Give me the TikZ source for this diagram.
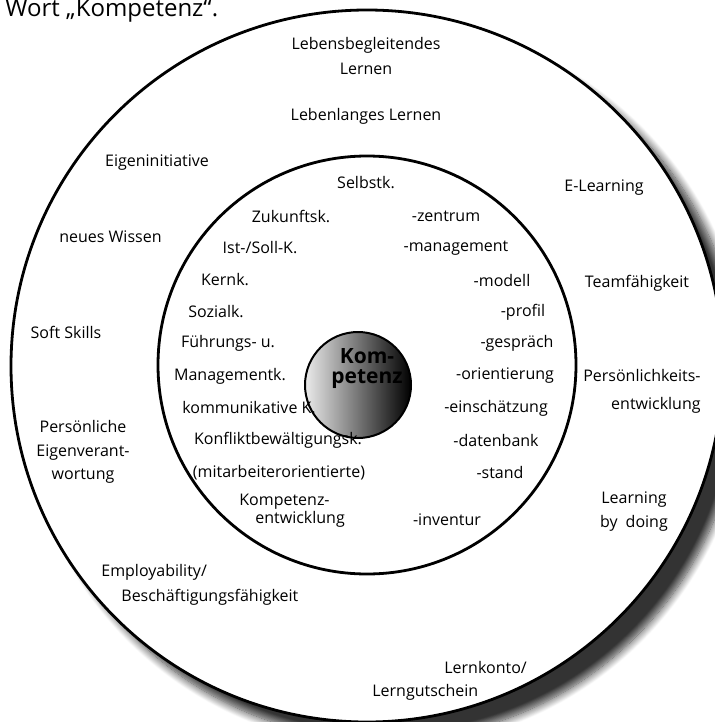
\documentclass[tikz,border=0pt]{standalone}
\usepackage{fontspec}
\setmainfont{Open Sans}
\usetikzlibrary{shadows.blur}

\tikzset{
  ringtext/.style={inner sep=1pt, align=center, font=\fontsize{8}{12.5}\selectfont},
  kreistext/.style={inner sep=1pt, font=\fontsize{8}{10}\selectfont},
  ring/.style={circle, draw, line width=1.4pt, fill=white, inner sep=0pt, outer sep=0pt},
  kugel/.style={circle, draw, line width=1pt, inner sep=0pt, minimum size=53pt,
    left color=black!8, right color=black},
}

\begin{document}
\begin{tikzpicture}[x=0.5pt, y=-0.5pt]
   \useasboundingbox (0,0) rectangle (714,722);

   \node[anchor=base west, inner sep=0pt, font=\fontsize{12}{14}\selectfont] (titel) at (5,17) {Wort „Kompetenz“.};

   % Ringe
   \node[ring, minimum size=356pt,
     blur shadow={shadow xshift=9pt, shadow yshift=-9pt, shadow blur radius=4pt,
       shadow blur steps=12, shadow opacity=80}] (aussen) at (367,366) {};
   \node[ring, minimum size=209pt] (innen) at (367,365) {};
   \node[kugel] (kern) at (358,385) {};
   \node[align=center, inner sep=0pt, font=\bfseries\fontsize{10.5}{10}\selectfont] (kerntext) at (367,369) {Kom-\\petenz};

   % aeusserer Ring
   \node[ringtext] (lebensbegl) at (366,56) {Lebensbegleitendes\\Lernen};
   \node[ringtext] (lebenlang) at (366,116) {Lebenlanges Lernen};
   \node[ringtext] (eigeninit) at (157,163) {Eigeninitiative};
   \node[ringtext] (elearn) at (604,188) {E-Learning};
   \node[ringtext, anchor=east] (wissen) at (164,237) {neues Wissen};
   \node[ringtext] (team) at (637,283) {Teamfähigkeit};
   \node[ringtext] (soft) at (66,332) {Soft Skills};
   \node[ringtext, align=right, anchor=east, font=\fontsize{8}{14}\selectfont] (persoenl) at (703,391) {Persönlichkeits-\\entwicklung};
   \node[ringtext, font=\fontsize{8}{11.75}\selectfont] (eigenverant) at (83,452) {Persönliche\\Eigenverant-\\wortung};
   \node[ringtext, font=\fontsize{8}{12}\selectfont] (learning) at (634,512) {Learning\\by\enspace doing};
   \node[ringtext, align=left, anchor=west, font=\fontsize{8}{12.5}\selectfont] (employ) at (99,585) {Employability/\\\hspace*{10pt}Beschäftigungsfähigkeit};
   \node[ringtext, align=left, anchor=west, font=\fontsize{8}{11.5}\selectfont] (lernkonto) at (370,681) {\hspace*{36pt}Lernkonto/\\Lerngutschein};

   % innerer Ring
   \node[kreistext] (selbst) at (366,183) {Selbstk.};
   \node[kreistext] (zukunft) at (291,216) {Zukunftsk.};
   \node[kreistext] (zentrum) at (446,216) {-zentrum};
   \node[kreistext] (istsoll) at (260,248) {Ist-/Soll-K.};
   \node[kreistext] (management) at (456,248) {-management};
   \node[kreistext] (kernk) at (225,280) {Kernk.};
   \node[kreistext] (modell) at (502,280) {-modell};
   \node[kreistext] (sozial) at (216,312) {Sozialk.};
   \node[kreistext] (profil) at (523,312) {-profil};
   \node[kreistext] (fuehrung) at (228,343) {Führungs- u.};
   \node[kreistext] (gespraech) at (517,343) {-gespräch};
   \node[kreistext] (managementk) at (230,376) {Managementk.};
   \node[kreistext] (orient) at (505,376) {-orientierung};
   \node[kreistext] (kommunik) at (249,408) {kommunikative K.};
   \node[kreistext] (einsch) at (496,408) {-einschätzung};
   \node[kreistext] (konflikt) at (278,440) {Konfliktbewältigungsk.};
   \node[kreistext] (datenbank) at (496,440) {-datenbank};
   \node[kreistext] (mitarb) at (279,473) {(mitarbeiterorientierte)};
   \node[kreistext] (stand) at (500,472) {-stand};
   \node[kreistext, align=left, anchor=west, font=\fontsize{8}{7.5}\selectfont] (kompentw) at (237,511) {Kompetenz-\\\hspace*{8pt}entwicklung};
   \node[kreistext] (inventur) at (447,520) {-inventur};
 \end{tikzpicture}
\end{document}
